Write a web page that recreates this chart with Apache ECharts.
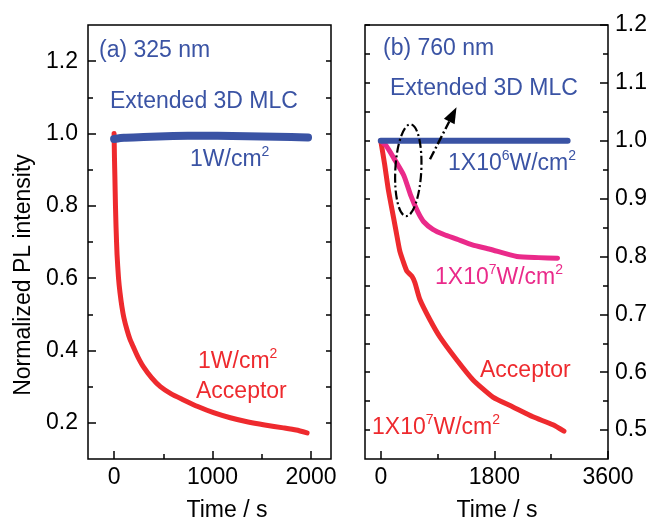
<!DOCTYPE html>
<html>
<head>
<meta charset="utf-8">
<script src="https://cdn.jsdelivr.net/npm/echarts@6/dist/echarts.min.js"></script>
<style>
  html, body { margin: 0; padding: 0; background: #fff; }
  #chart { width: 653px; height: 521px; }
</style>
</head>
<body>
<div id="chart"></div>
<script>
// panel (a) 325 nm, [time s, normalized PL]
var mlcA = [[0,0.985],[100,0.988],[300,0.990],[600,0.993],[900,0.994],[1200,0.993],[1500,0.992],[1800,0.990],[1970,0.989]];
var accA = [[0,1.0],[4,0.93],[8,0.88],[14,0.80],[20,0.74],[30,0.665],[45,0.60],[60,0.56],[80,0.52],[100,0.49],[130,0.458],[160,0.432],[195,0.41],[240,0.383],[295,0.356],[380,0.325],[470,0.30],[580,0.28],[700,0.264],[850,0.245],[1010,0.228],[1180,0.214],[1350,0.203],[1530,0.194],[1720,0.186],[1850,0.18],[1960,0.172]];
// panel (b) 760 nm
var mlcB6 = [[0,1.0],[500,1.0],[1000,1.0],[1500,1.0],[2000,1.0],[2500,1.0],[2960,1.0]];
var mlcB7 = [[0,1.0],[80,0.992],[206,0.97],[365,0.94],[476,0.905],[587,0.877],[680,0.86],[825,0.847],[1000,0.838],[1205,0.83],[1450,0.82],[1729,0.8125],[2157,0.80],[2500,0.798],[2800,0.797]];
var accB7 = [[0,1.0],[60,0.96],[120,0.915],[180,0.88],[240,0.845],[300,0.81],[350,0.793],[412,0.775],[492,0.766],[540,0.755],[618,0.726],[777,0.691],[936,0.661],[1205,0.621],[1459,0.587],[1776,0.557],[2094,0.54],[2411,0.523],[2728,0.509],[2902,0.498]];

var ticksXA = [0, 1000, 2000], minorXA = [500, 1500];
var ticksXB = [0, 1800, 3600], minorXB = [900, 2700];
var ticksYA = [0.2, 0.4, 0.6, 0.8, 1.0, 1.2], minorYA = [0.3, 0.5, 0.7, 0.9, 1.1];
var ticksYB = [0.5, 0.6, 0.7, 0.8, 0.9, 1.0, 1.1, 1.2], minorYB = [0.55, 0.65, 0.75, 0.85, 0.95, 1.05, 1.15];

var BLUE = '#3a53a4', RED = '#ee2a2e', PINK = '#ea2a8a';
var FONT = 'Liberation Sans, Arial, sans-serif';

var chart = echarts.init(document.getElementById('chart'));

function axisX(grid, min, max, ticks, len, labels) {
  return {
    type: 'value', gridIndex: grid, min: min, max: max, position: 'bottom',
    axisLine: { show: false, onZero: false }, splitLine: { show: false },
    axisTick: { show: true, inside: true, length: len, customValues: ticks, lineStyle: { color: '#000', width: 1.5 } },
    axisLabel: labels ? { show: true, customValues: ticks, margin: 7, color: '#000', fontSize: 23, fontFamily: FONT,
      formatter: function (v) { return String(v); } } : { show: false }
  };
}
function axisY(grid, min, max, pos, ticks, len, labels, margin) {
  return {
    type: 'value', gridIndex: grid, min: min, max: max, position: pos,
    axisLine: { show: false, onZero: false }, splitLine: { show: false },
    axisTick: { show: true, inside: true, length: len, customValues: ticks, lineStyle: { color: '#000', width: 1.5 } },
    axisLabel: labels ? { show: true, customValues: ticks, margin: margin, color: '#000', fontSize: 23, fontFamily: FONT,
      formatter: function (v) { return v.toFixed(1); } } : { show: false }
  };
}

function series(name, data, xi, yi, color, width) {
  return {
    name: name, type: 'line', data: data, xAxisIndex: xi, yAxisIndex: yi,
    showSymbol: false, smooth: 0.2, silent: true,
    lineStyle: { color: color, width: width, cap: 'round', join: 'round' }
  };
}

chart.setOption({
  animation: false,
  backgroundColor: '#fff',
  grid: [
    { left: 88, top: 25, width: 243, height: 434, show: true, borderColor: '#000', borderWidth: 1.5, backgroundColor: 'transparent', outerBoundsMode: 'none' },
    { left: 365, top: 25, width: 243, height: 434, show: true, borderColor: '#000', borderWidth: 1.5, backgroundColor: 'transparent', outerBoundsMode: 'none' }
  ],
  xAxis: [
    axisX(0, -265, 2203, ticksXA, 8, true),
    axisX(0, -265, 2203, minorXA, 5, false),
    axisX(1, -250, 3600, ticksXB, 8, true),
    axisX(1, -250, 3600, minorXB, 5, false)
  ],
  yAxis: [
    axisY(0, 0.1, 1.3, 'left', ticksYA, 8, true, 10),
    axisY(0, 0.1, 1.3, 'left', minorYA, 5, false),
    axisY(0, 0.1, 1.3, 'right', ticksYA.concat(minorYA), 5, false),
    axisY(1, 0.45, 1.2, 'right', ticksYB, 8, true, 7),
    axisY(1, 0.45, 1.2, 'right', minorYB, 5, false),
    axisY(1, 0.45, 1.2, 'left', ticksYB.concat(minorYB), 5, false)
  ],
  series: [
    series('Acceptor 325', accA, 0, 0, RED, 5),
    series('MLC 325', mlcA, 0, 0, BLUE, 8),
    series('Acceptor 760', accB7, 2, 3, RED, 5),
    series('MLC 760 1e7', mlcB7, 2, 3, PINK, 5),
    series('MLC 760 1e6', mlcB6, 2, 3, BLUE, 6)
  ]
});

// dash-dot ellipse for the annotation
var EllipseShape = echarts.graphic.extendShape({
  shape: { cx: 0, cy: 0, rx: 0, ry: 0 },
  buildPath: function (ctx, s) {
    var k = 0.5522848, ox = s.rx * k, oy = s.ry * k;
    ctx.moveTo(s.cx - s.rx, s.cy);
    ctx.bezierCurveTo(s.cx - s.rx, s.cy - oy, s.cx - ox, s.cy - s.ry, s.cx, s.cy - s.ry);
    ctx.bezierCurveTo(s.cx + ox, s.cy - s.ry, s.cx + s.rx, s.cy - oy, s.cx + s.rx, s.cy);
    ctx.bezierCurveTo(s.cx + s.rx, s.cy + oy, s.cx + ox, s.cy + s.ry, s.cx, s.cy + s.ry);
    ctx.bezierCurveTo(s.cx - ox, s.cy + s.ry, s.cx - s.rx, s.cy + oy, s.cx - s.rx, s.cy);
    ctx.closePath();
  }
});
echarts.graphic.registerShape('dashEllipse', EllipseShape);

var toB = function (p) { return chart.convertToPixel({ xAxisIndex: 2, yAxisIndex: 3 }, p); };
var ec = toB([436, 0.949]);
var a0 = toB([780, 0.968]);
var a1 = toB([1200, 1.058]);
var dx = a1[0] - a0[0], dy = a1[1] - a0[1], L = Math.sqrt(dx * dx + dy * dy);
var ux = dx / L, uy = dy / L;
var bx = a1[0] - 16 * ux, by = a1[1] - 16 * uy;
var DASH = [9, 3, 2, 3];

function txt(x, y, text, color, rich) {
  var st = { text: text, fill: color, fontSize: 23, fontFamily: FONT, align: 'left', verticalAlign: 'middle' };
  if (rich) {
    st.rich = {
      a: { fontSize: 23, fontFamily: FONT, fill: color, lineHeight: 30 },
      s: { fontSize: 14, fontFamily: FONT, fill: color, lineHeight: 14, verticalAlign: 'top' }
    };
  }
  return { type: 'text', x: x, y: y, silent: true, style: st };
}

chart.setOption({
  graphic: [
    txt(99, 51, '(a) 325 nm', BLUE),
    txt(110, 102, 'Extended 3D MLC', BLUE),
    txt(190, 160, '{a|1W/cm}{s|2}', BLUE, true),
    txt(198, 362, '{a|1W/cm}{s|2}', RED, true),
    txt(196, 392, 'Acceptor', RED),
    txt(383, 49, '(b) 760 nm', BLUE),
    txt(390, 89, 'Extended 3D MLC', BLUE),
    txt(448, 164, '{a|1X10}{s|6}{a|W/cm}{s|2}', BLUE, true),
    txt(435, 278, '{a|1X10}{s|7}{a|W/cm}{s|2}', PINK, true),
    txt(480, 371, 'Acceptor', RED),
    txt(372, 428, '{a|1X10}{s|7}{a|W/cm}{s|2}', RED, true),
    { type: 'text', x: 24, y: 275, rotation: Math.PI / 2, silent: true,
      style: { text: 'Normalized PL intensity', fill: '#000', fontSize: 23, fontFamily: FONT, align: 'center', verticalAlign: 'middle' } },
    { type: 'text', x: 227, y: 511, silent: true,
      style: { text: 'Time / s', fill: '#000', fontSize: 23, fontFamily: FONT, align: 'center', verticalAlign: 'middle' } },
    { type: 'text', x: 497, y: 511, silent: true,
      style: { text: 'Time / s', fill: '#000', fontSize: 23, fontFamily: FONT, align: 'center', verticalAlign: 'middle' } },
    { type: 'dashEllipse', x: ec[0], y: ec[1], rotation: -0.05, silent: true, z: 10,
      shape: { cx: 0, cy: 0, rx: 13, ry: 46 },
      style: { fill: null, stroke: '#000', lineWidth: 2.2, lineDash: DASH } },
    { type: 'line', silent: true, z: 10,
      shape: { x1: a0[0], y1: a0[1], x2: bx, y2: by },
      style: { stroke: '#000', lineWidth: 2.4, lineDash: DASH } },
    { type: 'polygon', silent: true, z: 10,
      shape: { points: [[a1[0], a1[1]], [bx + 6 * uy, by - 6 * ux], [bx - 6 * uy, by + 6 * ux]] },
      style: { fill: '#000' } }
  ]
});
</script>
</body>
</html>
